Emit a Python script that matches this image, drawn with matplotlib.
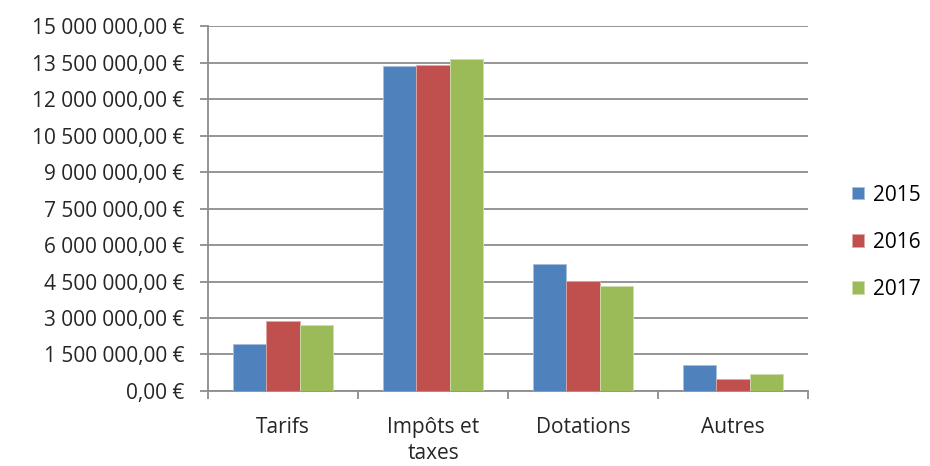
import numpy as np
import matplotlib.pyplot as plt

categories = ["Tarifs", "Impôts et\ntaxes", "Dotations", "Autres"]
years = ["2015", "2016", "2017"]
v2015 = [1920000, 13350000, 5220000, 1060000]
v2016 = [2860000, 13400000, 4530000, 480000]
v2017 = [2700000, 13650000, 4330000, 690000]
yticks = [0, 1500000, 3000000, 4500000, 6000000, 7500000, 9000000,
          10500000, 12000000, 13500000, 15000000]

colors = ["#4F81BD", "#C0504D", "#9BBB59"]
edges = ["#A7C0DE", "#E0A8A6", "#CDDDAC"]

plt.rcParams['font.family'] = ['Open Sans', 'DejaVu Sans']

def euro(v):
    s = "{:,.2f}".format(v).replace(",", " ").replace(".", ",")
    return s + " €"

fig = plt.figure(figsize=(9.3, 4.66), dpi=100)
ax = fig.add_axes([0.2237, 0.161, 0.6452, 0.783])

x = np.arange(len(categories))
w = 2 / 9
for i, vals in enumerate([v2015, v2016, v2017]):
    ax.bar(x + (i - 1) * w, vals, w, color=colors[i], edgecolor=edges[i],
           linewidth=0.6, label=years[i], zorder=3)

fs = 15
ax.set_xlim(-0.5, len(categories) - 0.5)
ax.set_ylim(0, 15000000)
ax.set_yticks(yticks)
ax.set_yticklabels([euro(v) for v in yticks], fontsize=fs, color="#262626")
ax.yaxis.grid(True, color="#8C8C8C", linewidth=1.3, zorder=0)

ax.set_xticks(x)
ax.set_xticklabels(categories, fontsize=fs, color="#262626", linespacing=1.3)
ax.set_xticks(np.arange(-0.5, len(categories)), minor=True)
ax.tick_params(axis='x', which='major', length=0, pad=19)
ax.tick_params(axis='x', which='minor', length=6, color="#8C8C8C", width=1.3)
ax.tick_params(axis='y', length=6, color="#8C8C8C", width=1.3, pad=11)

for s in ["top", "right"]:
    ax.spines[s].set_visible(False)
for s in ["left", "bottom"]:
    ax.spines[s].set_color("#8C8C8C")
    ax.spines[s].set_linewidth(1.3)

leg = ax.legend(loc="center left", bbox_to_anchor=(1.06, 0.408), frameon=False,
                fontsize=fs, handlelength=0.55, handleheight=0.55,
                labelspacing=1.25, handletextpad=0.45, borderaxespad=0)

fig.savefig("out.png", dpi=100)
